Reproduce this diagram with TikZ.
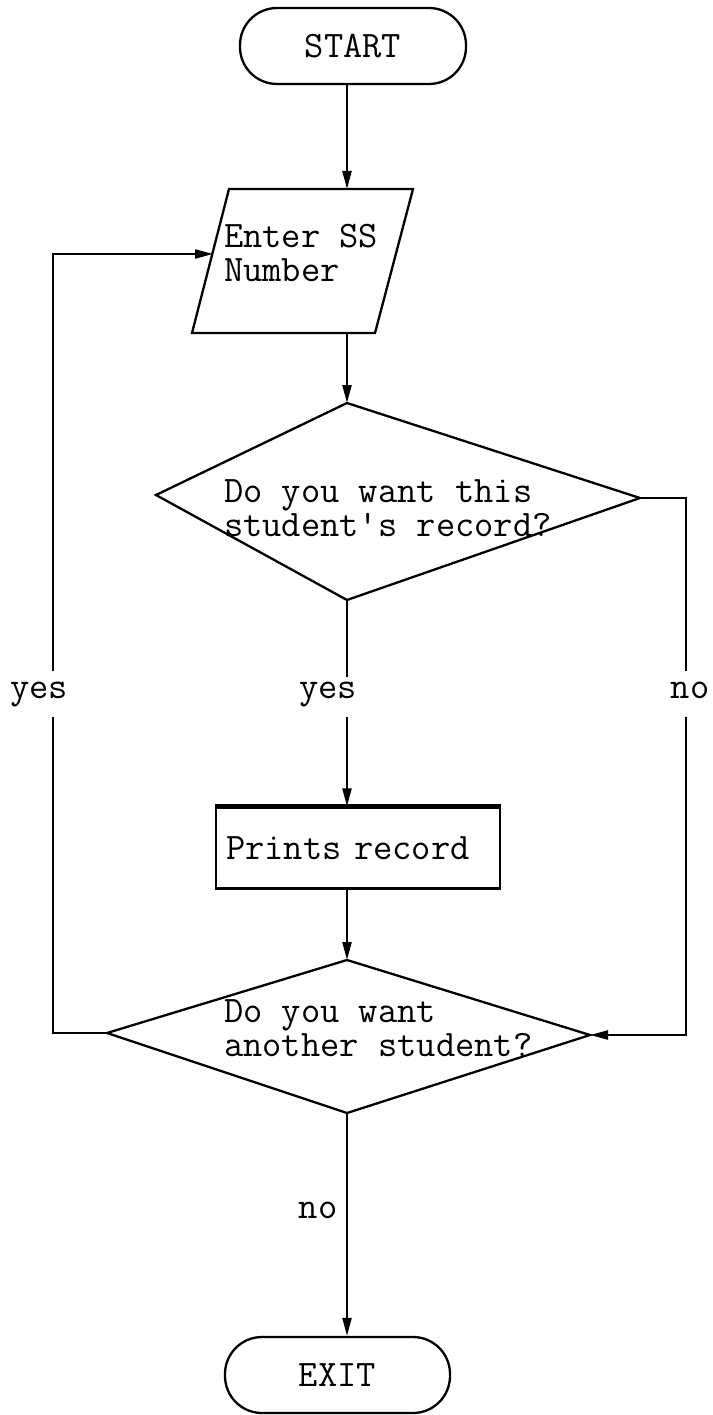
\documentclass[tikz,border=0pt]{standalone}
\usepackage{fontspec}
\usetikzlibrary{arrows.meta}
\begin{document}
\begin{tikzpicture}[x=1pt,y=-1pt,line width=2.3pt,
  every node/.style={font=\fontsize{37.4}{34}\selectfont\ttfamily,inner sep=0pt},
  arr/.style={-{Triangle[length=18pt,width=9pt]}},
  lbl/.style={fill=white,inner xsep=2pt,inner ysep=0pt,anchor=base},
  txt/.style={align=left,anchor=base west},
  term/.style={draw,rounded corners=37pt,minimum height=76pt}]
\useasboundingbox (0,0) rectangle (712,1415);
% terminals
\node[term,minimum width=226pt] (start) at (353,46) {START};
\node[term,minimum width=225pt] (exit) at (337.5,1375) {EXIT};
% input parallelogram
\coordinate (pTL) at (229,189);
\coordinate (pTR) at (413,189);
\coordinate (pBR) at (375,333);
\coordinate (pBL) at (192,333);
\draw (pTL) -- (pTR) -- (pBR) -- (pBL) -- cycle;
\coordinate (pTop) at (347,189);
\coordinate (pBot) at (347,333);
\coordinate (pIn) at (213,254);
\node[txt] (enter) at (223,281) {Enter SS\\Number};
% decision 1
\coordinate (d1t) at (347,403);
\coordinate (d1l) at (156,495);
\coordinate (d1r) at (640,498);
\coordinate (d1b) at (347,600);
\draw (d1t) -- (d1r) -- (d1b) -- (d1l) -- cycle;
\node[txt] (q1) at (223,536) {Do you want this\\student\textquotesingle s record?};
% process
\node[draw,minimum width=284pt,minimum height=81pt,text width=264pt,align=left,inner xsep=10pt] (box) at (358,848) {Prints record};
\draw[line width=4pt] (box.north west) -- (box.north east);
% decision 2
\coordinate (d2t) at (347,960);
\coordinate (d2l) at (107,1033);
\coordinate (d2r) at (590,1035);
\coordinate (d2b) at (347,1113);
\draw (d2t) -- (d2r) -- (d2b) -- (d2l) -- cycle;
\node[txt] (q2) at (223,1056) {Do you want\\another student?};
% loop corners
\coordinate (lc1) at (53,1033);
\coordinate (lc2) at (53,254);
\coordinate (rc1) at (686,498);
\coordinate (rc2) at (686,1035);
% connectors
\draw[arr] (start.south -| pTop) -- (pTop);
\draw[arr] (pBot) -- (d1t);
\draw[arr] (d1b) -- (d1b |- box.north);
\draw[arr] (box.south -| d2t) -- (d2t);
\draw[arr] (d2b) -- (d2b |- exit.north);
\draw[arr] (d2l) -- (lc1) -- (lc2) -- (pIn);
\draw[arr] (d1r) -- (rc1) -- (rc2) -- (d2r);
% labels
\node[lbl,text height=27pt,text depth=19pt] (yesL) at (39,698) {yes};
\node[lbl,text height=21pt,text depth=19pt] (yesM) at (328,698) {yes};
\node[lbl,text height=27pt,text depth=19pt] (noR) at (690,698) {no};
\node[lbl,text height=26pt,text depth=10pt] (noB) at (318,1218) {no};
\end{tikzpicture}
\end{document}
